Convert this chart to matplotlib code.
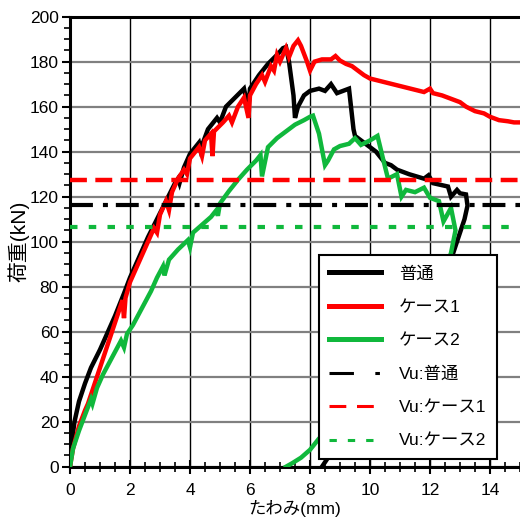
import matplotlib

matplotlib.use("Agg")

import matplotlib.pyplot as plt
from matplotlib.lines import Line2D
from matplotlib.ticker import MultipleLocator

plt.rcParams["font.family"] = ["Liberation Sans", "Noto Sans CJK JP", "DejaVu Sans"]

# 荷重-たわみ曲線 (mm, kN)
futsu_x = [0, 0.05, 0.15, 0.3, 0.5, 0.7, 0.85, 1.0, 1.2, 1.5, 1.8, 2.0, 2.3, 2.6,
           2.9, 3.2, 3.5, 3.6, 3.65, 3.8, 4.0, 4.3, 4.35, 4.6, 4.9, 5.0, 5.2, 5.5,
           5.8, 5.94, 6.0, 6.3, 6.6, 6.9, 7.1, 7.2, 7.3, 7.45, 7.5, 7.6, 7.8, 8.0,
           8.3, 8.5, 8.7, 8.9, 9.1, 9.3, 9.45, 9.5, 9.7, 10.0, 10.2, 10.5, 10.7,
           10.9, 11.3, 11.8, 11.95, 12.1, 12.6, 12.7, 12.9, 13.0, 13.2, 13.25,
           13.15, 12.95, 12.7, 12.0, 11.0, 10.0, 9.0, 8.6, 8.4]
futsu_y = [0, 10, 20, 29, 37, 44, 48, 52, 58, 67, 77, 84, 93, 102,
           110, 118, 126, 128, 126, 133, 139, 144, 141, 150, 155, 153, 160, 164,
           168, 159, 168, 174, 179, 183, 186, 186.5, 180, 165, 155, 160, 165, 167,
           168, 167, 170, 166, 167, 168, 150, 147, 145, 142, 140, 135, 134,
           132, 130, 128, 129.5, 126, 124.5, 120, 123, 121.5, 121, 116,
           110, 102, 92, 70, 45, 25, 10, 4, 0]

case1_x = [0, 0.1, 0.3, 0.5, 0.6, 0.8, 1.0, 1.2, 1.4, 1.6, 1.75, 1.8, 1.85, 2.0,
           2.2, 2.5, 2.8, 2.9, 3.0, 3.2, 3.3, 3.4, 3.6, 3.8, 3.9, 4.0, 4.3, 4.4,
           4.5, 4.7, 4.75, 4.8, 5.1, 5.3, 5.4, 5.6, 5.8, 5.95, 6.0, 6.2, 6.4, 6.5,
           6.7, 6.8, 6.9, 7.0, 7.2, 7.3, 7.45, 7.6, 7.7, 7.9, 8.0, 8.15, 8.4, 8.7,
           8.85, 9.0, 9.2, 9.4, 9.6, 9.8, 10.0, 10.3, 10.6, 10.9, 11.2, 11.5, 11.8,
           12.0, 12.1, 12.4, 12.7, 13.0, 13.2, 13.5, 13.8, 14.0, 14.3, 14.6, 14.8,
           15.0]
case1_y = [0, 8, 18, 25, 28, 36, 44, 52, 60, 68, 74, 66, 75, 82,
           88, 97, 106, 104, 112, 118, 114, 122, 128, 132, 130, 137, 142, 138,
           145, 148, 138, 149, 153, 156, 153, 160, 164, 155, 165, 170, 174, 171,
           178, 176, 183, 180, 186, 182, 187, 189.5, 187, 180, 176, 180, 181, 181,
           182.5, 180.5, 179, 178, 176, 174, 172.5, 171.5, 170.5, 169.5, 168.5, 167.5, 166.5,
           168, 166, 165, 163.5, 162, 160, 158, 157, 155.5, 154, 153.5, 153,
           153]

case2_x = [0, 0.1, 0.3, 0.5, 0.7, 0.75, 0.9, 1.1, 1.3, 1.5, 1.7, 1.8, 1.9, 2.1,
           2.3, 2.5, 2.7, 2.9, 3.1, 3.15, 3.3, 3.6, 3.93, 4.0, 4.1, 4.4, 4.7, 4.88,
           4.93, 5.0, 5.3, 5.6, 5.9, 6.2, 6.35, 6.4, 6.6, 6.9, 7.2, 7.5, 7.8,
           8.0, 8.1, 8.3, 8.5, 8.6, 8.8, 9.0, 9.3, 9.5, 9.7, 10.0, 10.25, 10.45,
           10.6, 10.9, 11.05, 11.2, 11.5, 11.8, 12.0, 12.3, 12.45, 12.7, 12.85,
           12.7, 12.5, 11.5, 10.5, 9.5, 8.5, 8.3, 8.0, 7.7, 7.4, 7.2]
case2_y = [0, 8, 16, 23, 30, 28, 35, 41, 46, 51, 56, 53, 59, 63,
           68, 73, 78, 84, 89, 85, 92, 96.5, 100.7, 97.5, 104, 107.5, 111, 114,
           111.5, 117, 122.5, 127.5, 132, 136, 138.5, 129, 142, 146, 149, 152, 154,
           155.5, 156, 148, 134, 136, 141, 142.5, 143.5, 146, 143, 145, 147, 136,
           128, 130, 120, 123, 122, 124, 119.5, 118, 109, 115, 105,
           95, 87, 60, 38, 25, 15, 12.5, 7.5, 4, 1.5, 0]

# 終局耐力 Vu (kN)
vu_futsu = 116.5
vu_case1 = 127.5
vu_case2 = 106.5

x_range = [0, 15]
labels = ["普通", "ケース1", "ケース2", "Vu:普通", "Vu:ケース1", "Vu:ケース2"]

BLACK = "#000000"
RED = "#ff0000"
GREEN = "#10b83c"


def main():
    fig = plt.figure(figsize=(5.2, 5.2), dpi=100)
    ax = fig.add_axes([0.1346, 0.1025, 0.8654, 0.8655])

    ax.plot(futsu_x, futsu_y, color=BLACK, lw=3.2, solid_joinstyle="miter", zorder=3)
    ax.plot(case1_x, case1_y, color=RED, lw=3.2, solid_joinstyle="miter", zorder=3)
    ax.plot(case2_x, case2_y, color=GREEN, lw=3.2, solid_joinstyle="miter", zorder=3)

    ax.plot(x_range, [vu_futsu] * 2, color=BLACK, lw=3.0,
            dashes=(5.5, 2.4, 1.2, 1.9), zorder=4)
    ax.plot(x_range, [vu_case1] * 2, color=RED, lw=3.2, dashes=(3.8, 1.9), zorder=4)
    ax.plot(x_range, [vu_case2] * 2, color=GREEN, lw=3.0, dashes=(1.8, 2.7), zorder=4)

    ax.set_xlim(0, 15)
    ax.set_ylim(0, 200)
    ax.xaxis.set_major_locator(MultipleLocator(2))
    ax.xaxis.set_minor_locator(MultipleLocator(0.5))
    ax.yaxis.set_major_locator(MultipleLocator(20))
    ax.yaxis.set_minor_locator(MultipleLocator(5))

    ax.grid(axis="x", which="major", color="black", lw=1.0, zorder=1)
    ax.grid(axis="y", which="major", color="#808080", lw=1.6, zorder=1)
    ax.set_axisbelow(True)

    for side in ("left", "bottom", "top"):
        ax.spines[side].set_linewidth(2.2)
    ax.spines["right"].set_visible(False)

    ax.tick_params(axis="x", which="major", direction="inout", length=10, width=1.5,
                   labelsize=12.5, pad=7)
    ax.tick_params(axis="x", which="minor", direction="inout", length=7, width=1.2)
    ax.tick_params(axis="y", which="major", direction="out", length=6, width=1.5,
                   labelsize=12.5, pad=2)
    ax.tick_params(axis="y", which="minor", direction="out", length=4, width=1.2)

    ax.set_xlabel("たわみ(mm)", fontsize=12.5, labelpad=1)
    ax.set_ylabel("荷重(kN)", fontsize=15, labelpad=0)

    handles = [
        Line2D([], [], color=BLACK, lw=3.6),
        Line2D([], [], color=RED, lw=3.6),
        Line2D([], [], color=GREEN, lw=3.6),
        Line2D([], [], color=BLACK, lw=2.2, dashes=(8, 7, 1.5, 7)),
        Line2D([], [], color=RED, lw=2.2, dashes=(5.5, 3.5)),
        Line2D([], [], color=GREEN, lw=2.2, dashes=(2.4, 3.6)),
    ]
    leg = ax.legend(handles, labels, loc="lower left",
                    bbox_to_anchor=(0.553, 0.017, 0.396, 0.46), mode="expand",
                    fontsize=12.5, frameon=True, fancybox=False, framealpha=1,
                    edgecolor="black", handlelength=3.0, handletextpad=1.0,
                    labelspacing=1.05, borderpad=0.6, borderaxespad=0)
    leg.get_frame().set_linewidth(1.5)
    leg.set_zorder(10)

    fig.savefig("out.png", dpi=100)
    plt.close(fig)


if __name__ == "__main__":
    main()
